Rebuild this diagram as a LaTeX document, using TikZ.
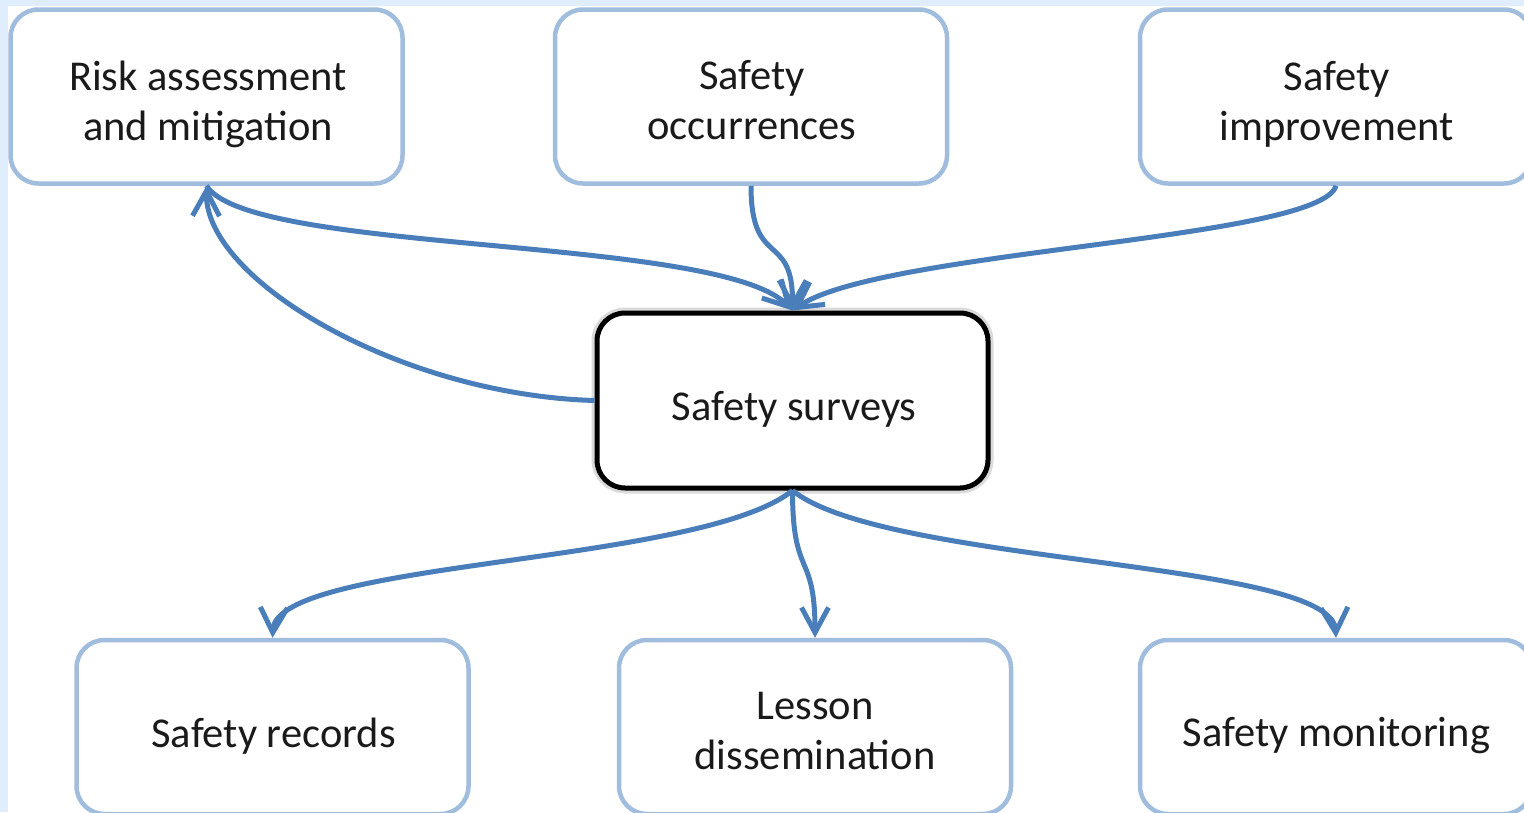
\documentclass[tikz,border=0pt]{standalone}
\usepackage{fontspec}
\setmainfont{Carlito}
\usetikzlibrary{arrows.meta,calc}
\definecolor{boxline}{HTML}{A0BDDE}
\definecolor{linkblue}{HTML}{4A7EBB}
\definecolor{paneblue}{HTML}{E0EDFC}
\definecolor{ink}{HTML}{1A1A1A}
\begin{document}
\begin{tikzpicture}[x=1pt,y=-1pt,
  card/.style={draw=boxline, line width=4.5pt, rounded corners=28pt, fill=white,
    minimum width=392pt, minimum height=174pt, inner sep=0pt},
  hub/.style={draw=black, line width=5pt, rounded corners=28pt, fill=white,
    minimum width=391pt, minimum height=175pt, inner sep=0pt,
    preaction={draw=black!14, line width=11pt}},
  caption/.style={font=\fontsize{42.5}{50}\selectfont, text=ink, align=center, inner sep=0pt},
  conn/.style={draw=linkblue, line width=5pt, -{Straight Barb[length=25pt,width=27pt]}},
]
\useasboundingbox (0,0) rectangle (1524,812);
\clip (0,0) rectangle (1524,812);
\fill[white] (0,0) rectangle (1524,812);
\fill[paneblue] (0,0) rectangle (1524,6);
\fill[paneblue] (0,0) rectangle (8,812);

% boxes
\node[card] (risk) at (206.5,96.5) {};
\node[card] (occ)  at (751,96.5) {};
\node[card] (impr) at (1336,96.5) {};
\node[hub]  (hub)  at (792.5,400.5) {};
\node[card] (rec)  at (272.5,727) {};
\node[card] (les)  at (815,727) {};
\node[card] (mon)  at (1336,727) {};

% captions
\node[caption] (risk-t) at (208,104.5) {Risk assessment\\and mitigation};
\node[caption] (occ-t)  at (752,100) {Safety\\occurrences};
\node[caption] (impr-t) at (1336.5,104.3) {Safety\\improvement};
\node[caption] (hub-t)  at (794,409) {Safety surveys};
\node[caption] (rec-t)  at (273.5,736) {Safety records};
\node[caption] (les-t)  at (815,731.5) {Lesson\\dissemination};
\node[caption] (mon-t)  at (1336.5,736) {Safety monitoring};

% links into the surveys box
\draw[conn] (risk.south) .. controls (250,255) and (720,235) .. (hub.north);
\draw[conn] (occ.south) .. controls (751,270) and (793,230) .. (hub.north);
\draw[conn] (impr.south) .. controls (1320,240) and (880,250) .. (hub.north);
% feedback to risk assessment
\draw[conn] (hub.west) .. controls (400,395) and (205,280) .. (risk.south);
% links out of the surveys box
\draw[conn] (hub.south) .. controls (700,565) and (276,560) .. (rec.north);
\draw[conn] (hub.south) .. controls (792.5,580) and (815,550) .. (les.north);
\draw[conn] (hub.south) .. controls (885,565) and (1332,560) .. (mon.north);
\end{tikzpicture}
\end{document}
